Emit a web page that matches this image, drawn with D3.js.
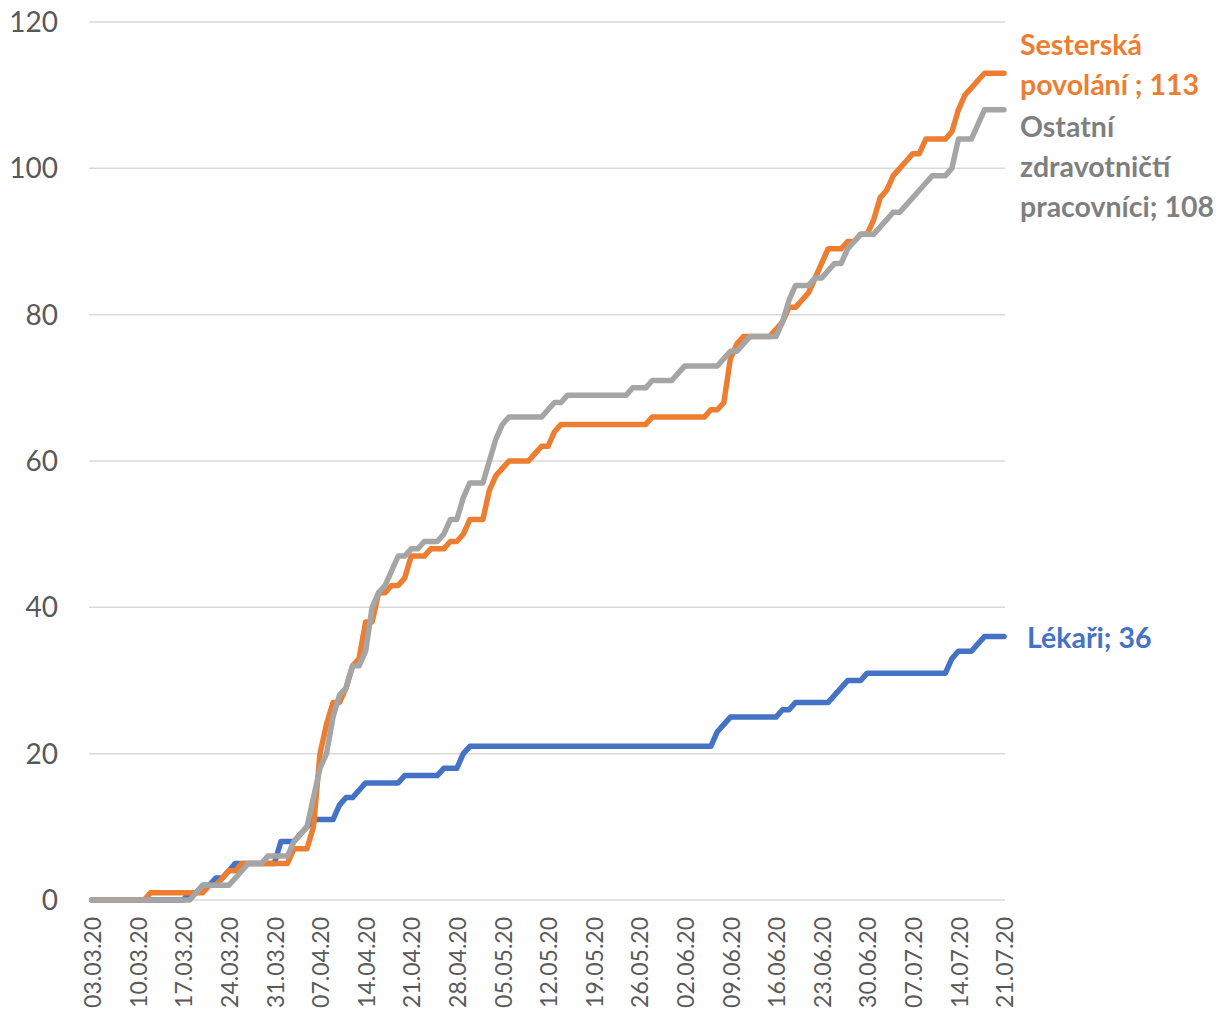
<!DOCTYPE html>
<html>
<head>
<meta charset="utf-8">
<script src="https://cdn.jsdelivr.net/npm/d3@7"></script>
<style>
  body { margin: 0; background: #fff; }
  svg { display: block; font-family: Lato, "Open Sans", sans-serif; }
</style>
</head>
<body>
<div id="chart"></div>
<script>
// daily values, 03.03.20 .. 21.07.20 (141 days)
const startDate = "2020-03-03";
const endDate = "2020-07-21";

const lekari = [
  0,0,0,0,0,0,0,0,0,0, 0,0,0,0,0,1,1,2,2,3, 3,4,5,5,5,5,5,5,5,8,
  8,8,9,10,11,11,11,11,13,14, 14,15,16,16,16,16,16,16,17,17, 17,17,17,17,18,18,18,20,21,21,
  21,21,21,21,21,21,21,21,21,21, 21,21,21,21,21,21,21,21,21,21, 21,21,21,21,21,21,21,21,21,21,
  21,21,21,21,21,21,23,24,25,25, 25,25,25,25,25,25,26,26,27,27, 27,27,27,27,28,29,30,30,30,31,
  31,31,31,31,31,31,31,31,31,31, 31,31,33,34,34,34,35,36,36,36, 36
];

const sesterska = [
  0,0,0,0,0,0,0,0,0,1, 1,1,1,1,1,1,1,1,2,2, 3,4,4,5,5,5,5,5,5,5,
  5,7,7,7,10,20,24,27,27,29, 32,33,38,38,42,42,43,43,44,47, 47,47,48,48,48,49,49,50,52,52,
  52,56,58,59,60,60,60,60,61,62, 62,64,65,65,65,65,65,65,65,65, 65,65,65,65,65,65,66,66,66,66,
  66,66,66,66,66,67,67,68,74,76, 77,77,77,77,77,78,79,81,81,82, 83,85,87,89,89,89,90,90,91,91,
  93,96,97,99,100,101,102,102,104,104, 104,104,105,108,110,111,112,113,113,113, 113
];

const ostatni = [
  0,0,0,0,0,0,0,0,0,0, 0,0,0,0,0,0,1,2,2,2, 2,2,3,4,5,5,5,6,6,6,
  6,8,9,10,14,18,20,25,28,29, 32,32,34,40,42,43,45,47,47,48, 48,49,49,49,50,52,52,55,57,57,
  57,60,63,65,66,66,66,66,66,66, 67,68,68,69,69,69,69,69,69,69, 69,69,69,70,70,70,71,71,71,71,
  72,73,73,73,73,73,73,74,75,75, 76,77,77,77,77,77,79,82,84,84, 84,85,85,86,87,87,89,90,91,91,
  91,92,93,94,94,95,96,97,98,99, 99,99,100,104,104,104,106,108,108,108, 108
];

const seriesNames = ["Lékaři", "Sesterská povolání", "Ostatní zdravotničtí pracovníci"];
const seriesColors = ["#4472C4", "#ED7D31", "#A5A5A5"];
const labelColors = ["#4472C4", "#ED7D31", "#7F7F7F"];
const endLabels = [["Lékaři; 36"], ["Sesterská", "povolání ; 113"], ["Ostatní", "zdravotničtí", "pracovníci; 108"]];

const yTicks = [0, 20, 40, 60, 80, 100, 120];
const xTickLabels = ["03.03.20", "10.03.20", "17.03.20", "24.03.20", "31.03.20", "07.04.20", "14.04.20",
  "21.04.20", "28.04.20", "05.05.20", "12.05.20", "19.05.20", "26.05.20", "02.06.20", "09.06.20",
  "16.06.20", "23.06.20", "30.06.20", "07.07.20", "14.07.20", "21.07.20"];

const width = 1224, height = 1013;
const parse = d3.timeParse("%Y-%m-%d");
const parseTick = d3.timeParse("%d.%m.%y");
const dates = d3.timeDay.range(parse(startDate), d3.timeDay.offset(parse(endDate), 1));

const svg = d3.select("#chart")
  .append("svg")
  .attr("width", width)
  .attr("height", height);

const x = d3.scaleTime()
  .domain([parse(startDate), parse(endDate)])
  .range([92, 1004]);

const y = d3.scaleLinear()
  .domain([0, 120])
  .range([900, 22]);

// gridlines
svg.append("g")
  .selectAll("line")
  .data(yTicks)
  .enter().append("line")
  .attr("x1", 89)
  .attr("x2", 1005)
  .attr("y1", d => y(d))
  .attr("y2", d => y(d))
  .attr("stroke", "#D9D9D9")
  .attr("stroke-width", 1.5);

// y labels
svg.append("g")
  .selectAll("text")
  .data(yTicks)
  .enter().append("text")
  .attr("x", 58)
  .attr("y", d => y(d))
  .attr("dy", "0.36em")
  .attr("text-anchor", "end")
  .attr("fill", "#595959")
  .style("font-size", "28px")
  .text(d => d);

// x labels (rotated)
svg.append("g")
  .selectAll("text")
  .data(xTickLabels)
  .enter().append("text")
  .attr("transform", d => "translate(" + (x(parseTick(d)) + 1) + ",917) rotate(-90)")
  .attr("dy", "0.36em")
  .attr("text-anchor", "end")
  .attr("fill", "#595959")
  .style("font-size", "23px")
  .text(d => d);

const line = d3.line()
  .x((d, i) => x(dates[i]))
  .y(d => y(d));

const allSeries = [lekari, sesterska, ostatni];

svg.append("g")
  .selectAll("path")
  .data(allSeries)
  .enter().append("path")
  .attr("d", d => line(d))
  .attr("fill", "none")
  .attr("stroke", (d, i) => seriesColors[i])
  .attr("stroke-width", 5.5)
  .attr("stroke-linejoin", "round")
  .attr("stroke-linecap", "round");

// end labels
const labelPos = [{x: 1027, y: 638}, {x: 1020, y: 45}, {x: 1020, y: 127}];
const labelGroup = svg.append("g")
  .style("font-size", "28.5px")
  .style("font-weight", "bold");

endLabels.forEach((lines, i) => {
  const t = labelGroup.append("text")
    .attr("x", labelPos[i].x)
    .attr("y", labelPos[i].y)
    .attr("fill", labelColors[i]);
  lines.forEach((s, j) => {
    t.append("tspan")
      .attr("x", labelPos[i].x)
      .attr("dy", j === 0 ? "0.36em" : "40px")
      .text(s);
  });
});
</script>
</body>
</html>
